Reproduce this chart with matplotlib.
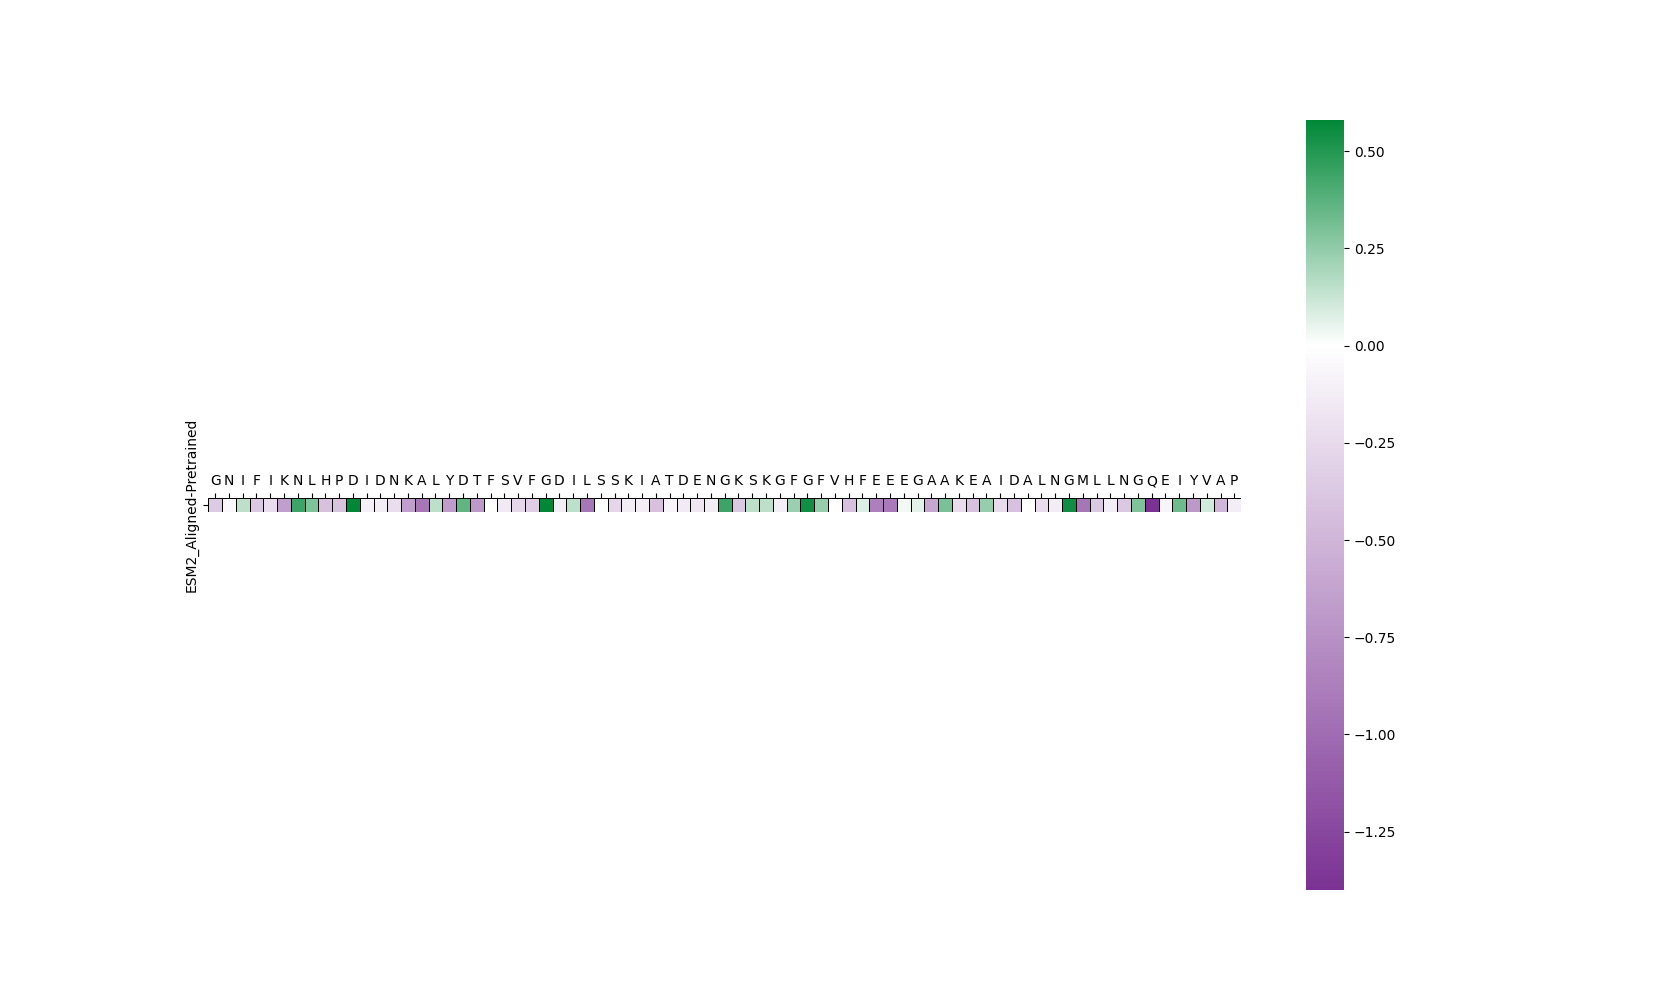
import matplotlib
matplotlib.use("Agg")
import matplotlib.pyplot as plt
import numpy as np
import seaborn as sns
from matplotlib.colors import LinearSegmentedColormap, TwoSlopeNorm
from matplotlib.ticker import MultipleLocator, FormatStrFormatter

residues = list("GNIFIKNLHPDIDNKALYDTFSVFGDILSSKIATDENGKSKGFGFVHFEEEGAAKEAIDALNGMLLNGQEIYVAP")
row_labels = ["ESM2_Aligned-Pretrained"]
values = [
    -0.35, -0.05, 0.15, -0.38, -0.22, -0.65, 0.44, 0.29, -0.42, -0.40,
    0.58, -0.10, -0.13, -0.22, -0.65, -0.93, 0.15, -0.67, 0.36, -0.70,
    0.00, -0.15, -0.27, -0.33, 0.58, -0.13, 0.15, -0.93, -0.02, -0.28,
    -0.13, -0.13, -0.42, -0.07, -0.14, -0.17, -0.13, 0.44, -0.38, 0.15,
    0.15, -0.11, 0.23, 0.54, 0.24, 0.00, -0.42, 0.08, -0.87, -0.91,
    0.03, 0.06, -0.60, 0.30, -0.23, -0.42, 0.24, -0.25, -0.42, 0.00,
    -0.23, -0.13, 0.54, -0.94, -0.38, -0.13, -0.38, 0.29, -1.40, -0.07,
    0.33, -0.70, 0.10, -0.50, -0.13,
]

data = np.array([values])
cmap = LinearSegmentedColormap.from_list("pg", ["#7b3294", "#ffffff", "#008837"])
norm = TwoSlopeNorm(vcenter=0.0, vmin=data.min(), vmax=data.max())

fig, ax = plt.subplots(figsize=(16.66, 10), dpi=100)
sns.heatmap(data, ax=ax, cmap=cmap, norm=norm, square=True,
            linewidths=0.5, linecolor="black",
            xticklabels=residues, yticklabels=row_labels)
ax.xaxis.tick_top()
ax.tick_params(axis="x", rotation=0, labelsize=10)
ax.set_yticklabels(row_labels, rotation=90, va="center")

cbar = ax.collections[0].colorbar
cbar.ax.set_yscale("linear")
cbar.ax.set_ylim(data.min(), data.max())
cbar.ax.yaxis.set_major_locator(MultipleLocator(0.25))
cbar.ax.yaxis.set_major_formatter(FormatStrFormatter("%.2f"))
cbar.ax.yaxis.set_minor_locator(matplotlib.ticker.NullLocator())
labels = [t.get_text().replace("-", "\u2212") for t in cbar.ax.get_yticklabels()]
cbar.ax.yaxis.set_major_formatter(matplotlib.ticker.FuncFormatter(lambda v, p: ("%.2f" % v).replace("-", "\u2212")))

fig.savefig("out.png", dpi=100)
